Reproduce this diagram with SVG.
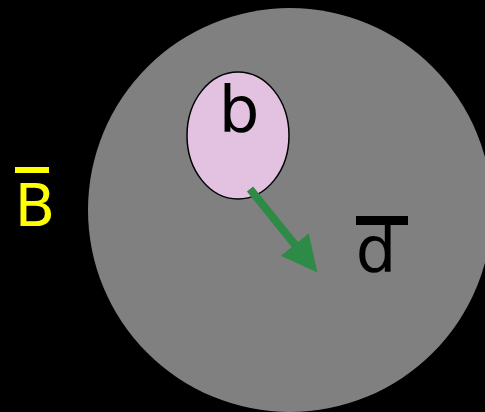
<svg xmlns="http://www.w3.org/2000/svg" width="485" height="412" viewBox="0 0 485 412">
<style>
.lbl{font-family:"DejaVu Sans",sans-serif;}
</style>
<defs>
<marker id="ah" markerUnits="userSpaceOnUse" markerWidth="40" markerHeight="40" refX="2" refY="18" orient="auto">
<path d="M0,0 L36,18 L0,36 Z" fill="#2e8b47"/>
</marker>
</defs>
<rect width="485" height="412" fill="#000"/>
<g id="outer">
<circle cx="290" cy="210" r="202" fill="#808080"/>
<text class="lbl" x="376" y="272" font-size="64" text-anchor="middle" fill="#000">d</text>
<rect x="356" y="216" width="52" height="9" fill="#000"/>
</g>
<g id="inner">
<ellipse cx="238" cy="135.5" rx="51" ry="63.5" fill="#e3c1e1" stroke="#000" stroke-width="1.5"/>
<text class="lbl" x="239" y="132" font-size="64" text-anchor="middle" fill="#000">b</text>
</g>
<g id="complement">
<text class="lbl" x="35" y="226" font-size="59" text-anchor="middle" fill="#ffff00">B</text>
<rect x="15" y="167" width="34" height="6" fill="#ffff00"/>
</g>
<g id="connectors">
<line x1="250" y1="189" x2="296" y2="246" stroke="#2e8b47" stroke-width="8" marker-end="url(#ah)"/>
</g>
</svg>
